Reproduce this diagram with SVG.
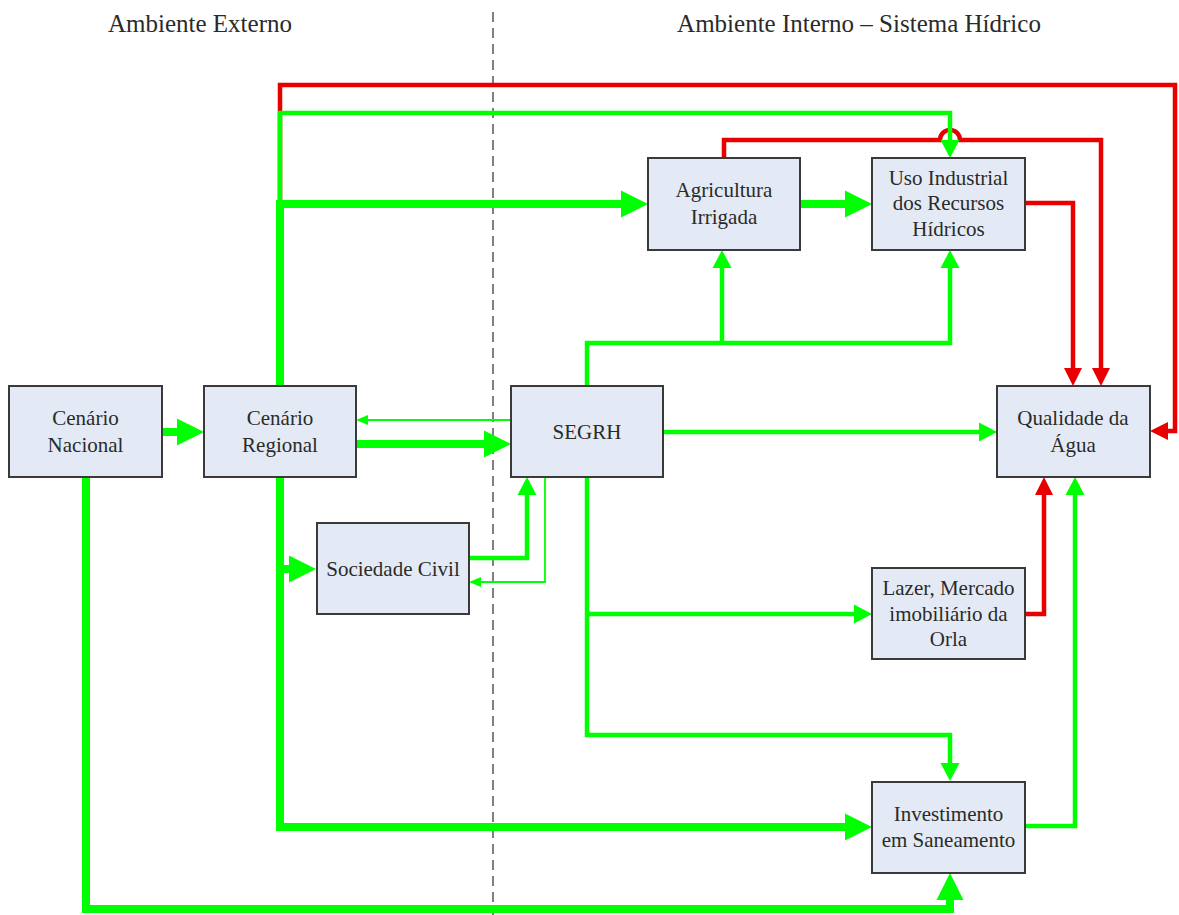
<svg xmlns="http://www.w3.org/2000/svg" width="1179" height="915" viewBox="0 0 1179 915">
<style>
.box{fill:#e4eaf5;stroke:#3a3a3a;stroke-width:2}
.t{font-family:"Liberation Serif","Times New Roman",serif;font-size:21px;fill:#2a2a2a;text-anchor:middle}
.title{font-family:"Liberation Serif","Times New Roman",serif;font-size:25px;fill:#2a2a2a;text-anchor:middle}
.g{fill:none;stroke:#00ff00;stroke-linejoin:miter}
.r{fill:none;stroke:#e80000;stroke-width:4.5;stroke-linejoin:miter}
.thick{stroke-width:8}
.med{stroke-width:4.5}
.thin{stroke-width:1.8}
</style>
<defs>
<marker id="gBig" markerUnits="userSpaceOnUse" viewBox="0 -14 28 28" markerWidth="28" markerHeight="28" refX="0" refY="0" orient="auto"><path d="M0,-13.5 L27,0 L0,13.5 z" fill="#00ff00"/></marker>
<marker id="gMed" markerUnits="userSpaceOnUse" viewBox="0 -10 19 20" markerWidth="19" markerHeight="20" refX="0" refY="0" orient="auto"><path d="M0,-9.5 L18,0 L0,9.5 z" fill="#00ff00"/></marker>
<marker id="rMed" markerUnits="userSpaceOnUse" viewBox="0 -10 19 20" markerWidth="19" markerHeight="20" refX="0" refY="0" orient="auto"><path d="M0,-9 L18,0 L0,9 z" fill="#e80000"/></marker>
<marker id="gThin" markerUnits="userSpaceOnUse" viewBox="0 -6 13 12" markerWidth="13" markerHeight="12" refX="0" refY="0" orient="auto"><path d="M0,-5 L12,0 L0,5 z" fill="#00ff00"/></marker>
</defs>

<text class="title" x="200" y="32">Ambiente Externo</text>
<text class="title" x="859" y="32">Ambiente Interno – Sistema Hídrico</text>
<line x1="493" y1="12" x2="493" y2="915" stroke="#555" stroke-width="1.5" stroke-dasharray="10,6"/>

<g id="connectors">
<!-- red -->
<path class="r" d="M280,204 V85 H1175 V431 H1168" marker-end="url(#rMed)"/>
<path class="r" d="M724,158 V140 H940 A10,10 0 0 1 960,140 H1101 V368" marker-end="url(#rMed)"/>
<path class="r" d="M1025,203 H1073 V368" marker-end="url(#rMed)"/>
<path class="r" d="M1025,614 H1044 V495" marker-end="url(#rMed)"/>
<!-- green -->
<path class="g med" d="M280,204 V113 H950 V140" marker-end="url(#gMed)"/>
<path class="g thick" d="M280,386 V204 H621" marker-end="url(#gBig)"/>
<path class="g thick" d="M800,204 H845" marker-end="url(#gBig)"/>
<path class="g thick" d="M162,432 H177" marker-end="url(#gBig)"/>
<path class="g thick" d="M356,444 H484" marker-end="url(#gBig)"/>
<path class="g thin" d="M511,420 H368" marker-end="url(#gThin)"/>
<path class="g med" d="M587,386 V343 H950 V268" marker-end="url(#gMed)"/>
<path class="g med" d="M722,343 V268" marker-end="url(#gMed)"/>
<path class="g med" d="M663,432 H979" marker-end="url(#gMed)"/>
<path class="g thick" d="M280,477 V827 H845" marker-end="url(#gBig)"/>
<path class="g thick" d="M280,569 H289" marker-end="url(#gBig)"/>
<path class="g med" d="M469,558 H527 V495" marker-end="url(#gMed)"/>
<path class="g thin" d="M545,477 V582 H481" marker-end="url(#gThin)"/>
<path class="g med" d="M587,477 V735 H950 V763" marker-end="url(#gMed)"/>
<path class="g med" d="M587,614 H854" marker-end="url(#gMed)"/>
<path class="g med" d="M1025,826 H1075 V495" marker-end="url(#gMed)"/>
<path class="g thick" d="M86,477 V909 H950 V900" marker-end="url(#gBig)"/>
</g>

<g id="cenario-nacional">
<rect class="box" x="9" y="386" width="153" height="91"/>
<text class="t" x="85.5" y="425">Cenário</text>
<text class="t" x="85.5" y="452">Nacional</text>
</g>
<g id="cenario-regional">
<rect class="box" x="204" y="386" width="152" height="91"/>
<text class="t" x="280" y="425">Cenário</text>
<text class="t" x="280" y="452">Regional</text>
</g>
<g id="segrh">
<rect class="box" x="511" y="386" width="152" height="91"/>
<text class="t" x="587" y="439">SEGRH</text>
</g>
<g id="qualidade">
<rect class="box" x="997" y="386" width="153" height="91"/>
<text class="t" x="1073" y="425">Qualidade da</text>
<text class="t" x="1073" y="452">Água</text>
</g>
<g id="agricultura">
<rect class="box" x="648" y="158" width="152" height="92"/>
<text class="t" x="724" y="197">Agricultura</text>
<text class="t" x="724" y="224">Irrigada</text>
</g>
<g id="uso-industrial">
<rect class="box" x="872" y="158" width="153" height="92"/>
<text class="t" x="948.5" y="185">Uso Industrial</text>
<text class="t" x="948.5" y="210">dos Recursos</text>
<text class="t" x="948.5" y="236">Hídricos</text>
</g>
<g id="sociedade-civil">
<rect class="box" x="317" y="523" width="152" height="91"/>
<text class="t" x="393" y="576">Sociedade Civil</text>
</g>
<g id="lazer">
<rect class="box" x="872" y="568" width="153" height="91"/>
<text class="t" x="948.5" y="595">Lazer, Mercado</text>
<text class="t" x="948.5" y="621">imobiliário da</text>
<text class="t" x="948.5" y="646">Orla</text>
</g>
<g id="investimento">
<rect class="box" x="872" y="782" width="153" height="91"/>
<text class="t" x="948.5" y="821">Investimento</text>
<text class="t" x="948.5" y="847">em Saneamento</text>
</g>
</svg>
